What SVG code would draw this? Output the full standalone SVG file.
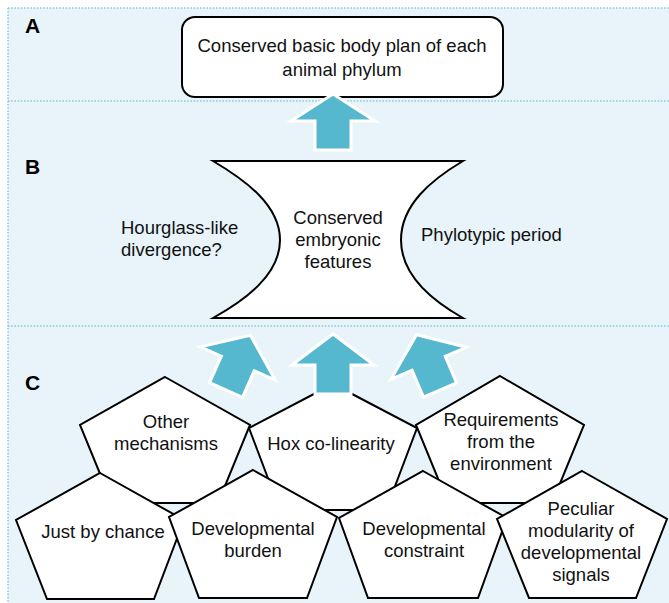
<svg xmlns="http://www.w3.org/2000/svg" width="669" height="603" viewBox="0 0 669 603">
<style>
.bg{fill:#e8f4fa}
.dot{stroke:#8ccbdb;stroke-width:1.6;stroke-dasharray:1.6 1.6;fill:none}
.lbl{font-family:"Liberation Sans",Arial,sans-serif;font-weight:bold;font-size:21px;fill:#000}
.t{font-family:"Liberation Sans",Arial,sans-serif;font-size:18.5px;fill:#111;text-anchor:middle}
.tl{font-family:"Liberation Sans",Arial,sans-serif;font-size:18.5px;fill:#111}
.shape{fill:#fff;stroke:#000;stroke-width:2;stroke-linejoin:miter}
.arrow{fill:#56b8cf;stroke:#fff;stroke-width:3;stroke-linejoin:miter}
</style>
<defs>
<path id="arrC" d="M0,-60 L41,-29 L18,-29 L18,0 L-18,0 L-18,-29 L-41,-29 Z"/>
<path id="arrA" d="M0,-56 L42,-29 L18,-29 L18,0 L-18,0 L-18,-29 L-42,-29 Z"/>
</defs>
<rect class="bg" x="8" y="8" width="661" height="595"/>
<g id="panel-lines">
<line class="dot" x1="8" y1="8" x2="669" y2="8"/>
<line class="dot" x1="8" y1="8" x2="8" y2="603"/>
<line class="dot" x1="8" y1="101" x2="669" y2="101"/>
<line class="dot" x1="8" y1="326" x2="669" y2="326"/>
</g>
<text class="lbl" x="25" y="33">A</text>
<text class="lbl" x="25" y="174">B</text>
<text class="lbl" x="25" y="390">C</text>

<g id="node-bodyplan">
<rect class="shape" x="182" y="17" width="321" height="80" rx="13" stroke-width="2.5"/>
<text class="t" x="342" y="52">Conserved basic body plan of each</text>
<text class="t" x="342" y="76">animal phylum</text>
</g>

<g id="node-embryonic">
<path class="shape" d="M213,161 L463,161 C431,180 401,205 401,240 C401,275 431,300 463,318 L213,318 C245,300 280,275 280,240 C280,205 245,180 213,161 Z" stroke-width="2.5"/>
<text class="t" x="338" y="224">Conserved</text>
<text class="t" x="338" y="246">embryonic</text>
<text class="t" x="338" y="268">features</text>
</g>
<g id="label-hourglass">
<text class="tl" x="121" y="234">Hourglass-like</text>
<text class="tl" x="121" y="256">divergence?</text>
</g>
<g id="label-phylotypic">
<text class="tl" x="421" y="241">Phylotypic period</text>
</g>

<g id="node-other">
<polygon class="shape" points="165,377 250,425 218,503 112,503 80,425"/>
<text class="t" x="166" y="428">Other</text>
<text class="t" x="166" y="450">mechanisms</text>
</g>
<g id="node-hox">
<polygon class="shape" points="333,384 417,428 386,510 280,510 249,428"/>
<text class="t" x="331" y="450">Hox co-linearity</text>
</g>
<g id="node-requirements">
<polygon class="shape" points="500,376 584,425 552,503 448,503 416,425"/>
<text class="t" x="501" y="426">Requirements</text>
<text class="t" x="501" y="448">from the</text>
<text class="t" x="501" y="470">environment</text>
</g>
<g id="node-chance">
<polygon class="shape" points="100,473 184,520 154,599 47,599 16,520"/>
<text class="t" x="103" y="538">Just by chance</text>
</g>
<g id="node-burden">
<polygon class="shape" points="253,470 337,517 307,598 199,598 169,517"/>
<text class="t" x="253" y="535">Developmental</text>
<text class="t" x="253" y="557">burden</text>
</g>
<g id="node-constraint">
<polygon class="shape" points="423,471 507,518 478,598 368,598 339,518"/>
<text class="t" x="424" y="535">Developmental</text>
<text class="t" x="424" y="557">constraint</text>
</g>
<g id="node-peculiar">
<polygon class="shape" points="582,471 667,519 636,598 529,598 497,519"/>
<text class="t" x="581" y="515">Peculiar</text>
<text class="t" x="581" y="537">modularity of</text>
<text class="t" x="581" y="559">developmental</text>
<text class="t" x="581" y="581">signals</text>
</g>

<g id="connectors">
<use href="#arrA" class="arrow" transform="translate(333,150)"/>
<use href="#arrC" class="arrow" transform="translate(226,390) rotate(24)"/>
<use href="#arrC" class="arrow" transform="translate(333,394)"/>
<use href="#arrC" class="arrow" transform="translate(440,390) rotate(-23)"/>
</g>
</svg>
